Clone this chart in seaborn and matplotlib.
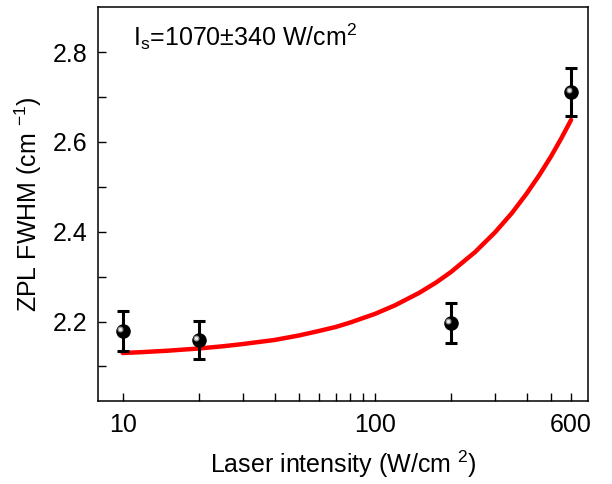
import numpy as np
import pandas as pd
import matplotlib
matplotlib.use("Agg")
import matplotlib.pyplot as plt
import matplotlib.transforms as mtransforms
from matplotlib.ticker import FixedLocator, NullFormatter, FixedFormatter
import seaborn as sns

# ---- data ----
intensity = [10, 20, 200, 600]
fwhm = [2.179, 2.159, 2.197, 2.711]
fwhm_err = [0.044, 0.043, 0.044, 0.054]

fit_intensity = [10, 12, 15, 20, 25, 30, 40, 50, 60, 70, 80, 100, 120, 150, 175,
                 200, 250, 300, 350, 400, 450, 500, 550, 600]
fit_fwhm = [2.130, 2.132, 2.135, 2.140, 2.145, 2.150, 2.159, 2.169, 2.179, 2.188,
            2.198, 2.217, 2.236, 2.264, 2.287, 2.310, 2.355, 2.399, 2.442, 2.485,
            2.527, 2.568, 2.609, 2.649]

major_ticks = [10, 100, 600]
major_labels = ["10", "100", "600"]
minor_ticks = [20, 30, 40, 50, 60, 70, 80, 90, 200, 300, 400, 500]
y_ticks = [2.2, 2.4, 2.6, 2.8]
y_labels = ["2.2", "2.4", "2.6", "2.8"]
y_minor = [2.1, 2.3, 2.5, 2.7]

annotation = r"I$_\mathregular{s}$=1070$\pm$340 W/cm$^\mathregular{2}$"
xlabel = r"Laser intensity (W/cm $^\mathregular{2}$)"
ylabel = r"ZPL FWHM (cm $^\mathregular{-1}$)"

# ---- style ----
sns.set_theme(style="white")
plt.rcParams["font.family"] = ["Liberation Sans", "DejaVu Sans"]
plt.rcParams["mathtext.fontset"] = "custom"
plt.rcParams["mathtext.rm"] = "Liberation Sans"
plt.rcParams["mathtext.it"] = "Liberation Sans"
plt.rcParams["mathtext.default"] = "regular"

FS = 18

fig = plt.figure(figsize=(6.12, 4.84), dpi=100)
ax = fig.add_axes([0.1606, 0.1705, 0.9603 - 0.1606, 0.9849 - 0.1705])

df_fit = pd.DataFrame({"I": fit_intensity, "W": fit_fwhm})
df_pts = pd.DataFrame({"I": intensity, "W": fwhm, "e": fwhm_err})

ax.set_xscale("log")

sns.lineplot(data=df_fit, x="I", y="W", ax=ax, color="#ff0000", lw=3.2,
             zorder=2, legend=False)

ax.errorbar(df_pts["I"], df_pts["W"], yerr=df_pts["e"], fmt="none",
            ecolor="black", elinewidth=2.2, capsize=4.5, capthick=2.2, zorder=3)

sns.scatterplot(data=df_pts, x="I", y="W", ax=ax, color="black", s=110,
                edgecolor="black", linewidth=0, zorder=4, legend=False)
# sphere highlight
hl1 = mtransforms.offset_copy(ax.transData, fig=fig, x=-1.7, y=1.7, units="points")
ax.scatter(df_pts["I"], df_pts["W"], s=18, color="#9a9a9a", linewidth=0,
           transform=hl1, zorder=5)
ax.scatter(df_pts["I"], df_pts["W"], s=5, color="#f0f0f0", linewidth=0,
           transform=hl1, zorder=6)

ax.set_xlim(8.0, 698.7)
ax.set_ylim(2.022, 2.900)

ax.xaxis.set_major_locator(FixedLocator(major_ticks))
ax.xaxis.set_major_formatter(FixedFormatter(major_labels))
ax.xaxis.set_minor_locator(FixedLocator(minor_ticks))
ax.xaxis.set_minor_formatter(NullFormatter())
ax.yaxis.set_major_locator(FixedLocator(y_ticks))
ax.yaxis.set_major_formatter(FixedFormatter(y_labels))
ax.yaxis.set_minor_locator(FixedLocator(y_minor))

ax.tick_params(axis="both", which="major", direction="in", length=6, width=1.0,
               labelsize=FS, color="black", labelcolor="black", pad=8,
               bottom=True, left=True, top=False, right=False)
ax.tick_params(axis="both", which="minor", direction="in", length=6, width=1.0,
               color="black", bottom=True, left=True, top=False, right=False)
ax.tick_params(axis="x", which="major", pad=8)

for s in ax.spines.values():
    s.set_color("black")
    s.set_linewidth(1.1)

ax.set_xlabel(xlabel, fontsize=FS, color="black", labelpad=9)
ax.set_ylabel(ylabel, fontsize=FS, color="black", labelpad=6)

ax.text(0.07, 0.925, annotation, transform=ax.transAxes, fontsize=FS,
        color="black", ha="left", va="center")

fig.savefig("out.png", dpi=100)
